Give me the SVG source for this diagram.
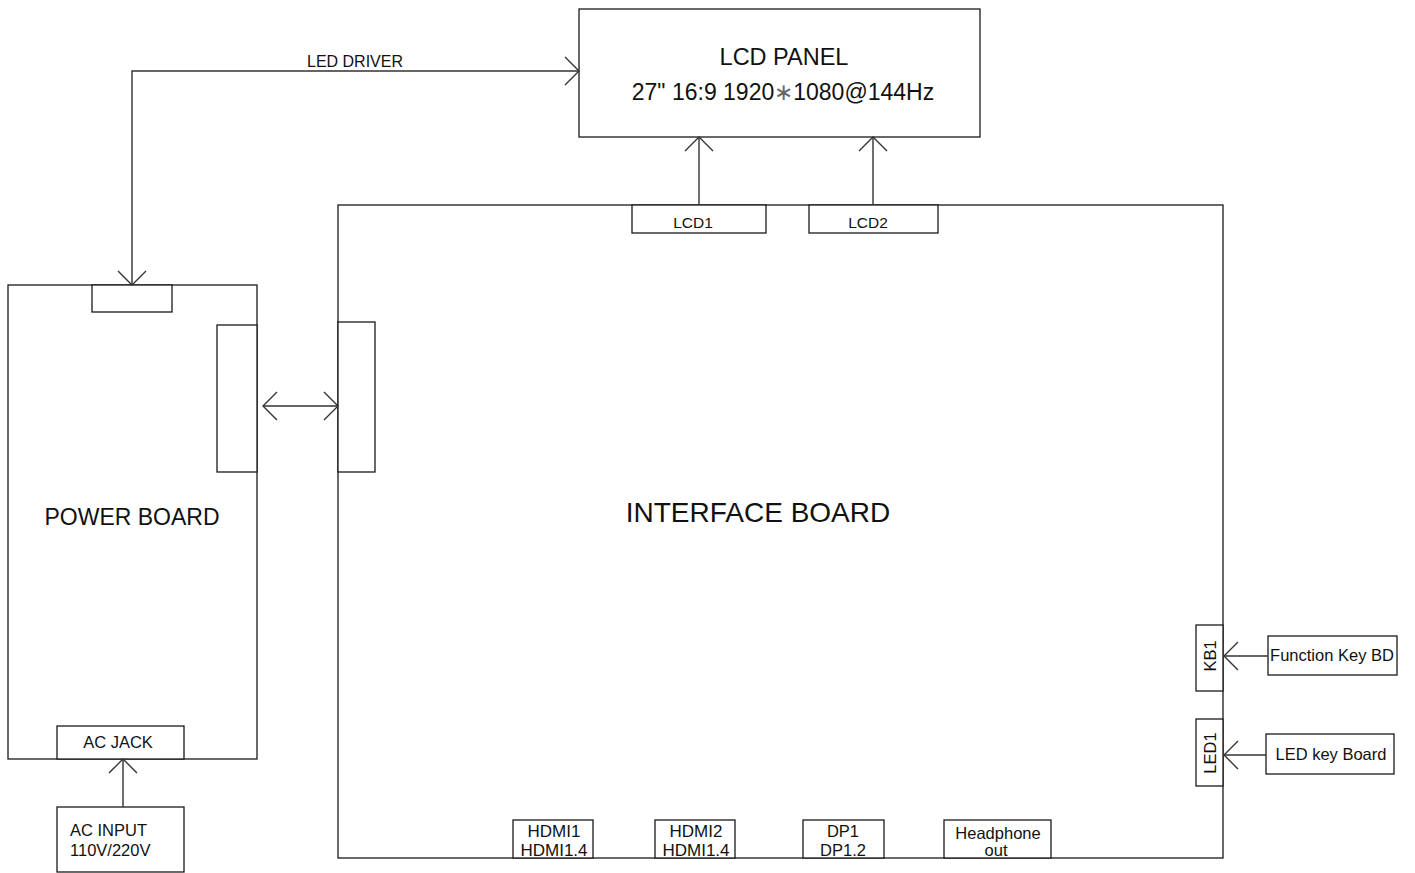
<svg xmlns="http://www.w3.org/2000/svg" width="1415" height="873" viewBox="0 0 1415 873">
<defs>
<style>
.box{fill:#fff;stroke:#1a1a1a;stroke-width:1.3}
.con{fill:none;stroke:#333;stroke-width:1.4}
text{font-family:"Liberation Sans",Arial,sans-serif;fill:#111}
.t15{font-size:15.5px}
.t16{font-size:16.5px}
.hd{font-size:17px}
</style>
<marker id="ah" viewBox="0 0 16 30" refX="15" refY="15" markerWidth="16" markerHeight="30" markerUnits="userSpaceOnUse" orient="auto-start-reverse">
<path d="M1,1 L15,15 L1,29" fill="none" stroke="#333" stroke-width="1.4"/>
</marker>
</defs>
<rect width="1415" height="873" fill="#fff"/>

<g id="lcd-panel">
<rect class="box" x="579" y="9" width="401" height="128"/>
<text x="784" y="65" font-size="23.5" text-anchor="middle">LCD PANEL</text>
<text x="783" y="100" font-size="23" text-anchor="middle">27" 16:9 1920<tspan fill="#666">∗</tspan>1080@144Hz</text>
</g>

<g id="power-board">
<rect class="box" x="8" y="285" width="249" height="474"/>
<text x="132" y="525" font-size="23" text-anchor="middle">POWER BOARD</text>
</g>
<g id="pb-top-conn"><rect class="box" x="92" y="285" width="80" height="27"/></g>
<g id="pb-side-conn"><rect class="box" x="217" y="325" width="40" height="147"/></g>
<g id="ac-jack">
<rect class="box" x="57" y="726" width="127" height="33"/>
<text class="t16" x="118" y="748" text-anchor="middle">AC JACK</text>
</g>
<g id="ac-input">
<rect class="box" x="57" y="807" width="127" height="65"/>
<text class="t16" x="70" y="836">AC INPUT</text>
<text class="t16" x="70" y="856">110V/220V</text>
</g>

<g id="interface-board">
<rect class="box" x="338" y="205" width="885" height="653"/>
<text x="758" y="522" font-size="28" text-anchor="middle">INTERFACE BOARD</text>
</g>
<g id="ib-side-conn"><rect class="box" x="338" y="322" width="37" height="150"/></g>
<g id="lcd1">
<rect class="box" x="632" y="205" width="134" height="28"/>
<text class="t15" x="693" y="228" text-anchor="middle">LCD1</text>
</g>
<g id="lcd2">
<rect class="box" x="809" y="205" width="129" height="28"/>
<text class="t15" x="868" y="228" text-anchor="middle">LCD2</text>
</g>
<g id="kb1">
<rect class="box" x="1196" y="625" width="27" height="66"/>
<text class="t16" transform="translate(1215.5,656) rotate(-90)" text-anchor="middle">KB1</text>
</g>
<g id="led1">
<rect class="box" x="1196" y="719" width="27" height="67"/>
<text class="t16" transform="translate(1215.5,753) rotate(-90)" text-anchor="middle">LED1</text>
</g>
<g id="function-key-bd">
<rect class="box" x="1268" y="636" width="129" height="39"/>
<text class="t16" x="1332" y="661" text-anchor="middle">Function Key BD</text>
</g>
<g id="led-key-board">
<rect class="box" x="1266" y="734" width="128" height="40"/>
<text class="t16" x="1331" y="760" text-anchor="middle">LED key Board</text>
</g>
<g id="hdmi1">
<rect class="box" x="513" y="820" width="80" height="38"/>
<text class="hd" x="554" y="837" text-anchor="middle">HDMI1</text>
<text class="hd" x="554" y="856" text-anchor="middle">HDMI1.4</text>
</g>
<g id="hdmi2">
<rect class="box" x="655" y="820" width="80" height="38"/>
<text class="hd" x="696" y="837" text-anchor="middle">HDMI2</text>
<text class="hd" x="696" y="856" text-anchor="middle">HDMI1.4</text>
</g>
<g id="dp1">
<rect class="box" x="803" y="820" width="81" height="38"/>
<text class="t16" x="843" y="837" text-anchor="middle">DP1</text>
<text class="t16" x="843" y="856" text-anchor="middle">DP1.2</text>
</g>
<g id="headphone">
<rect class="box" x="944" y="820" width="107" height="38"/>
<text class="t16" x="998" y="839" text-anchor="middle">Headphone</text>
<text class="t16" x="996" y="856" text-anchor="middle">out</text>
</g>

<g id="connectors">
<path class="con" d="M132,285 V71 H579" marker-start="url(#ah)" marker-end="url(#ah)"/>
<text x="355" y="67" font-size="16" text-anchor="middle">LED DRIVER</text>
<path class="con" d="M263,406 H338" marker-start="url(#ah)" marker-end="url(#ah)"/>
<path class="con" d="M699,205 V137" marker-end="url(#ah)"/>
<path class="con" d="M873,205 V137" marker-end="url(#ah)"/>
<path class="con" d="M123,807 V759" marker-end="url(#ah)"/>
<path class="con" d="M1268,656 H1224" marker-end="url(#ah)"/>
<path class="con" d="M1266,755 H1224" marker-end="url(#ah)"/>
</g>
</svg>
